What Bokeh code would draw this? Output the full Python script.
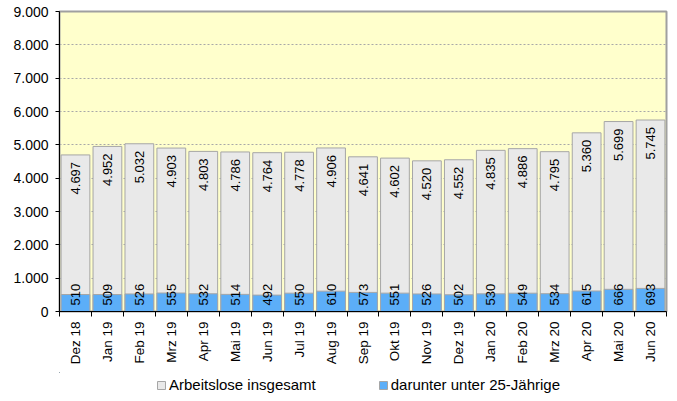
import numpy as np
from math import pi
from bokeh.plotting import figure
from bokeh.layouts import column
from bokeh.models import (Range1d, FixedTicker, Legend, LegendItem, ColumnDataSource)
from bokeh.core.properties import value
from bokeh.embed import file_html
from bokeh.resources import INLINE

months = ["Dez 18", "Jan 19", "Feb 19", "Mrz 19", "Apr 19", "Mai 19", "Jun 19",
          "Jul 19", "Aug 19", "Sep 19", "Okt 19", "Nov 19", "Dez 19", "Jan 20",
          "Feb 20", "Mrz 20", "Apr 20", "Mai 20", "Jun 20"]
total = [4697, 4952, 5032, 4903, 4803, 4786, 4764, 4778, 4906, 4641, 4602,
         4520, 4552, 4835, 4886, 4795, 5360, 5699, 5745]
young = [510, 509, 526, 555, 532, 514, 492, 550, 610, 573, 551, 526, 502,
         530, 549, 534, 615, 666, 693]
y_ticks = [0, 1000, 2000, 3000, 4000, 5000, 6000, 7000, 8000, 9000]
series_names = ["Arbeitslose insgesamt", "darunter unter 25-Jährige"]

FONT = "Liberation Sans"
GRAY_FILL, BLUE_FILL, EDGE = "#E9E9E9", "#5CAEF8", "#A6A6A6"


def de(v):
    return f"{v:,}".replace(",", ".")


idx = list(range(len(months)))
src = ColumnDataSource(dict(
    x=idx, total=total, young=young, base=[0] * len(idx),
    tl=[de(v) for v in total], yl=[de(v) for v in young]))

p = figure(width=669, height=372, output_backend="svg", toolbar_location=None,
           x_range=Range1d(-0.5, len(months) - 0.5), y_range=Range1d(0, 9000),
           min_border_left=59, min_border_right=3, min_border_top=11,
           min_border_bottom=61)

p.background_fill_color = "#FFFFCC"
p.border_fill_color = "white"
p.outline_line_color = "#A0A0A0"
p.outline_line_width = 2

p.vbar(x="x", top="total", width=0.9, source=src,
       fill_color=GRAY_FILL, line_color=EDGE, line_width=1)
p.vbar(x="x", top="young", width=0.9, source=src,
       fill_color=BLUE_FILL, line_color=EDGE, line_width=1)

p.text(x="x", y="total", text="tl", source=src, angle=pi / 2,
       text_align="right", text_baseline="middle", y_offset=7,
       text_font=value(FONT), text_font_size="13px", text_color="black")
p.text(x="x", y="base", text="yl", source=src, angle=pi / 2,
       text_align="left", text_baseline="middle", y_offset=-6,
       text_font=value(FONT), text_font_size="13px", text_color="black")

# y axis
p.yaxis.ticker = FixedTicker(ticks=y_ticks)
p.yaxis.major_label_overrides = {v: de(v) for v in y_ticks}
p.yaxis.major_label_text_font = FONT
p.yaxis.major_label_text_font_size = "14px"
p.yaxis.major_label_text_color = "black"
p.yaxis.axis_line_color = "black"
p.yaxis.major_tick_line_color = "black"
p.yaxis.major_tick_out = 4
p.yaxis.major_tick_in = 0
p.yaxis.minor_tick_line_color = None
p.yaxis.major_label_standoff = 7

# x axis
p.xaxis.ticker = FixedTicker(ticks=idx, minor_ticks=[i - 0.5 for i in range(len(idx) + 1)])
p.xaxis.major_label_overrides = {i: m for i, m in zip(idx, months)}
p.xaxis.major_label_orientation = pi / 2
p.xaxis.major_label_text_font = FONT
p.xaxis.major_label_text_font_size = "13.5px"
p.xaxis.major_label_text_color = "black"
p.xaxis.axis_line_color = "black"
p.xaxis.major_tick_line_color = None
p.xaxis.major_tick_out = 5
p.xaxis.major_tick_in = 0
p.xaxis.minor_tick_line_color = "black"
p.xaxis.minor_tick_out = 5
p.xaxis.minor_tick_in = 0
p.xaxis.major_label_standoff = 5

p.xgrid.grid_line_color = None
p.ygrid.grid_line_color = "#A8A8A8"
p.ygrid.grid_line_dash = "2 2"
p.ygrid.grid_line_width = 1

# legend strip: a small figure holding only the legend; its renderers use the
# same data but lie outside that figure's (empty) range, so only swatches show
lf = figure(width=669, height=21, output_backend="svg", toolbar_location=None,
            x_range=Range1d(100, 101), y_range=Range1d(-2, -1),
            x_axis_location=None, y_axis_location=None,
            min_border=0, min_border_left=0, min_border_right=0,
            min_border_top=0, min_border_bottom=0)
lf.grid.visible = False
lf.outline_line_color = None
lf.background_fill_color = "white"
lg_tot = lf.vbar(x="x", top="total", width=0.9, source=src,
                 fill_color=GRAY_FILL, line_color=EDGE)
lg_young = lf.vbar(x="x", top="young", width=0.9, source=src,
                   fill_color=BLUE_FILL, line_color=EDGE)

legend = Legend(items=[LegendItem(label=series_names[0], renderers=[lg_tot]),
                       LegendItem(label=series_names[1], renderers=[lg_young])],
                orientation="horizontal", location=(97, 0),
                glyph_width=10, glyph_height=10, label_standoff=3, spacing=62,
                padding=0, margin=0, label_height=14,
                label_text_font=FONT, label_text_font_size="15px",
                label_text_color="black",
                background_fill_alpha=0, border_line_alpha=0)
lf.add_layout(legend, "center")

layout = column(p, lf, spacing=0)
open("out.html", "w").write(file_html(layout, INLINE))
